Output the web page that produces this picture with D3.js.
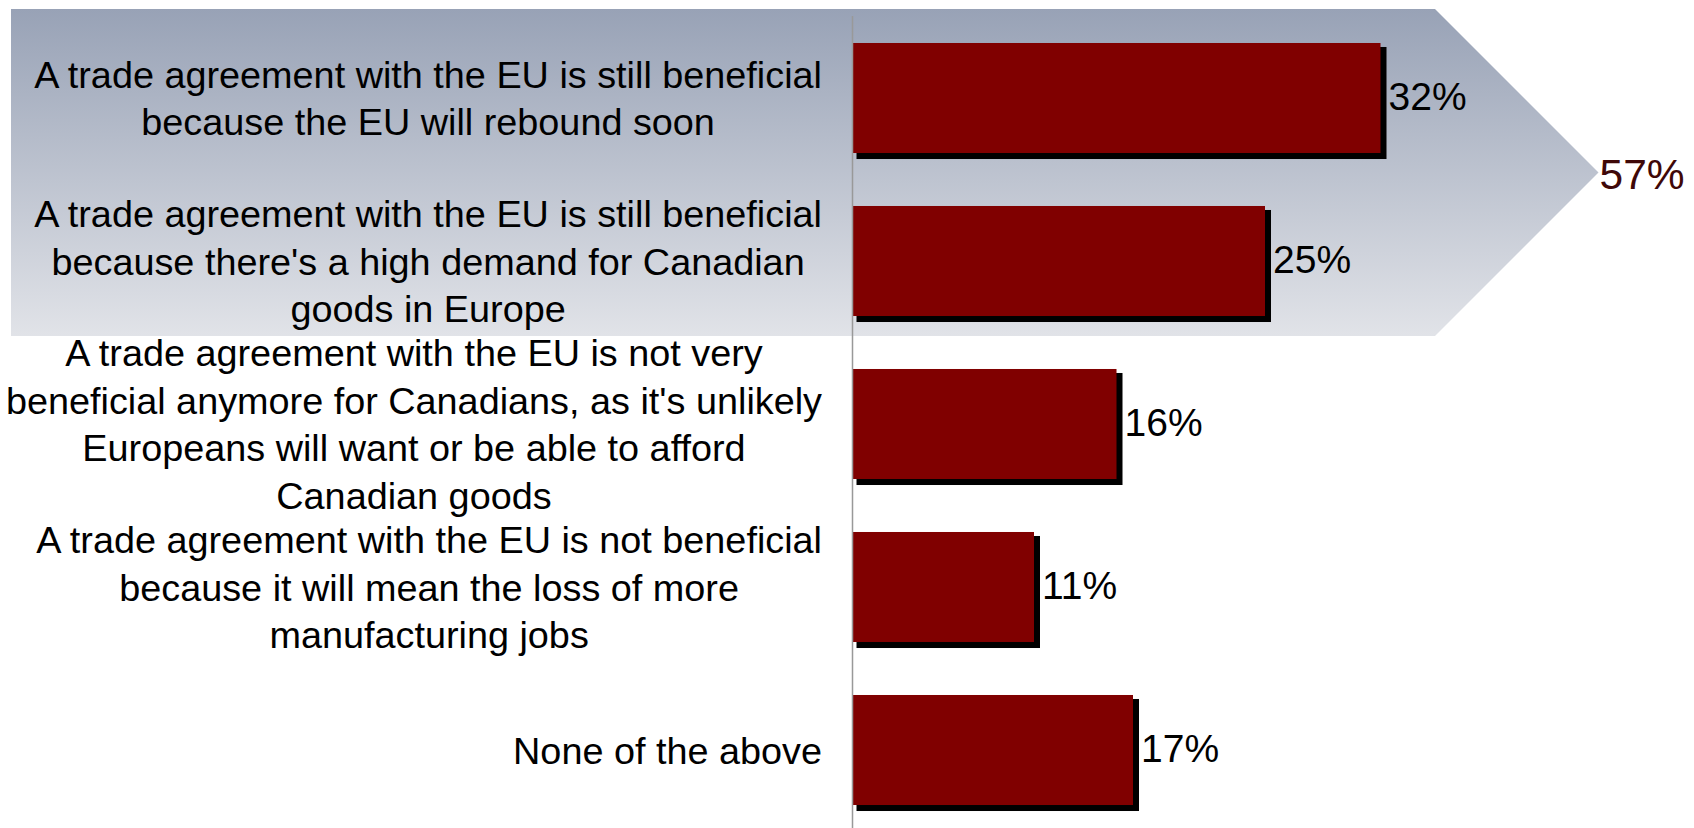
<!DOCTYPE html>
<html>
<head>
<meta charset="utf-8">
<script src="https://cdn.jsdelivr.net/npm/d3@7"></script>
<style>
  html, body { margin: 0; padding: 0; background: #ffffff; }
  svg { display: block; }
  text { font-family: "Liberation Sans", Arial, Helvetica, sans-serif; }
</style>
</head>
<body>
<svg id="chart" width="1694" height="828"></svg>
<script>
// Survey answers (each answer split into its display lines)
const categories = [
  ["A trade agreement with the EU is still beneficial", "because the EU will rebound soon"],
  ["A trade agreement with the EU is still beneficial", "because there's a high demand for Canadian", "goods in Europe"],
  ["A trade agreement with the EU is not very", "beneficial anymore for Canadians, as it's unlikely", "Europeans will want or be able to afford", "Canadian goods"],
  ["A trade agreement with the EU is not beneficial", "because it will mean the loss of more", "manufacturing jobs"],
  ["None of the above"]
];
const values = [32, 25, 16, 11, 17];
// answers grouped under the "still beneficial" banner
const highlighted = [0, 1];

const W = 1694, H = 828;
const svg = d3.select("#chart");
const ids = categories.map((_, i) => i);

const x = d3.scaleLinear().domain([0, 50]).range([852.5, 1677.5]);
const y = d3.scaleBand().domain(ids).range([16.5, 831.5])
  .paddingInner(0.325).paddingOuter(0.1625);

const labelSize = 37.8, lineH = 47.5, valueSize = 39;

// Banner behind the highlighted answers
const defs = svg.append("defs");
const grad = defs.append("linearGradient").attr("id", "bannerFill")
  .attr("x1", 0).attr("y1", 0).attr("x2", 0).attr("y2", 1);
grad.append("stop").attr("offset", "0%").attr("stop-color", "#98a2b6");
grad.append("stop").attr("offset", "100%").attr("stop-color", "#e1e3e8");

const bTop = y(highlighted[0]) - 34;
const bBottom = y(highlighted[highlighted.length - 1]) + y.bandwidth() + 20;
const bLeft = 11, bRight = 1435;
const bMid = (bTop + bBottom) / 2;
const bTip = bRight + (bBottom - bTop) / 2;
svg.append("path")
  .attr("d", `M${bLeft},${bTop}H${bRight}L${bTip},${bMid}L${bRight},${bBottom}H${bLeft}Z`)
  .attr("fill", "url(#bannerFill)");

const total = d3.sum(highlighted, i => values[i]);
svg.append("text")
  .attr("x", bTip + 1).attr("y", bMid + 16)
  .attr("font-size", 42.5).attr("fill", "#3f0808")
  .text(total + "%");

// Bars with drop shadows
const g = svg.append("g");
g.selectAll("rect.shadow").data(ids).join("rect")
  .attr("class", "shadow")
  .attr("x", x(0) + 4)
  .attr("y", i => y(i) + 4)
  .attr("width", i => x(values[i]) - x(0) + 2)
  .attr("height", y.bandwidth() + 2)
  .attr("fill", "#000000");
g.selectAll("rect.bar").data(ids).join("rect")
  .attr("class", "bar")
  .attr("x", x(0))
  .attr("y", i => y(i))
  .attr("width", i => x(values[i]) - x(0))
  .attr("height", y.bandwidth())
  .attr("fill", "#800000");

// Value labels
g.selectAll("text.val").data(ids).join("text")
  .attr("class", "val")
  .attr("x", i => x(values[i]) + 8)
  .attr("y", i => y(i) + y.bandwidth() / 2 + 12)
  .attr("font-size", valueSize)
  .attr("fill", "#000000")
  .text(i => values[i] + "%");

// Category axis line
svg.append("line")
  .attr("x1", x(0)).attr("x2", x(0))
  .attr("y1", 16).attr("y2", H)
  .attr("stroke", "#999999").attr("stroke-width", 1.5);

// Category labels: block right-aligned to the axis, lines centred inside the block
const labelRight = 822;
ids.forEach(i => {
  const lines = categories[i];
  const cy = y(i) + y.bandwidth() / 2;
  const grp = svg.append("g");
  const texts = grp.selectAll("text").data(lines).join("text")
    .attr("font-size", labelSize)
    .attr("fill", "#000000")
    .attr("text-anchor", "middle")
    .attr("y", (d, k) => cy + (k - (lines.length - 1) / 2) * lineH + 13.5)
    .text(d => d);
  const widest = d3.max(texts.nodes(), n => n.getComputedTextLength());
  texts.attr("x", labelRight - widest / 2);
});
</script>
</body>
</html>
